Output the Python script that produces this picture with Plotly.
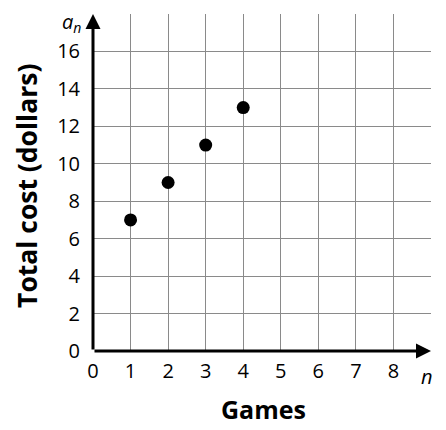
import plotly.graph_objects as go

# Data
games = [1, 2, 3, 4]
total_cost = [7, 9, 11, 13]

x_ticks = [0, 1, 2, 3, 4, 5, 6, 7, 8, 9]
x_labels = ["0", "1", "2", "3", "4", "5", "6", "7", "8", ""]
y_ticks = [0, 2, 4, 6, 8, 10, 12, 14, 16, 18]
y_labels = ["0", "2", "4", "6", "8", "10", "12", "14", "16", ""]

font_family = "Open Sans"
grid_color = "#8a8a8a"
tick_font = dict(family=font_family, size=20, color="black")

fig = go.Figure()

fig.add_trace(go.Scatter(
    x=games, y=total_cost, mode="markers",
    marker=dict(color="black", size=13),
    showlegend=False, hoverinfo="skip",
))

# axis arrows
fig.add_annotation(x=9, y=0, ax=0, ay=0, xref="x", yref="y", axref="x", ayref="y",
                   showarrow=True, arrowhead=2, arrowsize=1, arrowwidth=3,
                   arrowcolor="black", text="")
fig.add_annotation(x=0, y=18, ax=0, ay=0, xref="x", yref="y", axref="x", ayref="y",
                   showarrow=True, arrowhead=2, arrowsize=1, arrowwidth=3,
                   arrowcolor="black", text="")

# variable labels and axis titles (paper coords = fraction of plot area)
fig.add_annotation(x=0.988, y=-0.077, xref="paper", yref="paper",
                   xanchor="center", yanchor="middle",
                   showarrow=False, text="<i>n</i>", font=tick_font)
fig.add_annotation(x=-0.098, y=0.976, xref="paper", yref="paper",
                   xanchor="left", yanchor="middle",
                   showarrow=False, text="<i>a</i><sub><i>n</i></sub>", font=tick_font)
fig.add_annotation(x=0.503, y=-0.172, xref="paper", yref="paper",
                   xanchor="center", yanchor="middle",
                   showarrow=False, text="<b>Games</b>",
                   font=dict(family=font_family, size=25, color="black"))
fig.add_annotation(x=-0.195, y=0.49, xref="paper", yref="paper",
                   xanchor="center", yanchor="middle",
                   showarrow=False, text="<b>Total cost (dollars)</b>",
                   font=dict(family=font_family, size=26.5, color="black"),
                   textangle=-90)

fig.update_xaxes(
    range=[0, 9], tickvals=x_ticks, ticktext=x_labels,
    showgrid=True, gridcolor=grid_color, gridwidth=1,
    zeroline=False, showline=False, ticks="", automargin=False,
    tickfont=tick_font, ticklabelstandoff=6,
)
fig.update_yaxes(
    range=[0, 18], tickvals=y_ticks, ticktext=y_labels,
    showgrid=True, gridcolor=grid_color, gridwidth=1,
    zeroline=False, showline=False, ticks="", automargin=False,
    tickfont=tick_font, ticklabelstandoff=12,
)

# the page adds an 8px body margin, so the figure is shifted left/up by that much
fig.update_layout(
    width=446, height=430,
    margin=dict(l=85, r=23, t=6, b=87),
    paper_bgcolor="white", plot_bgcolor="white",
)

fig.write_html("out.html")
